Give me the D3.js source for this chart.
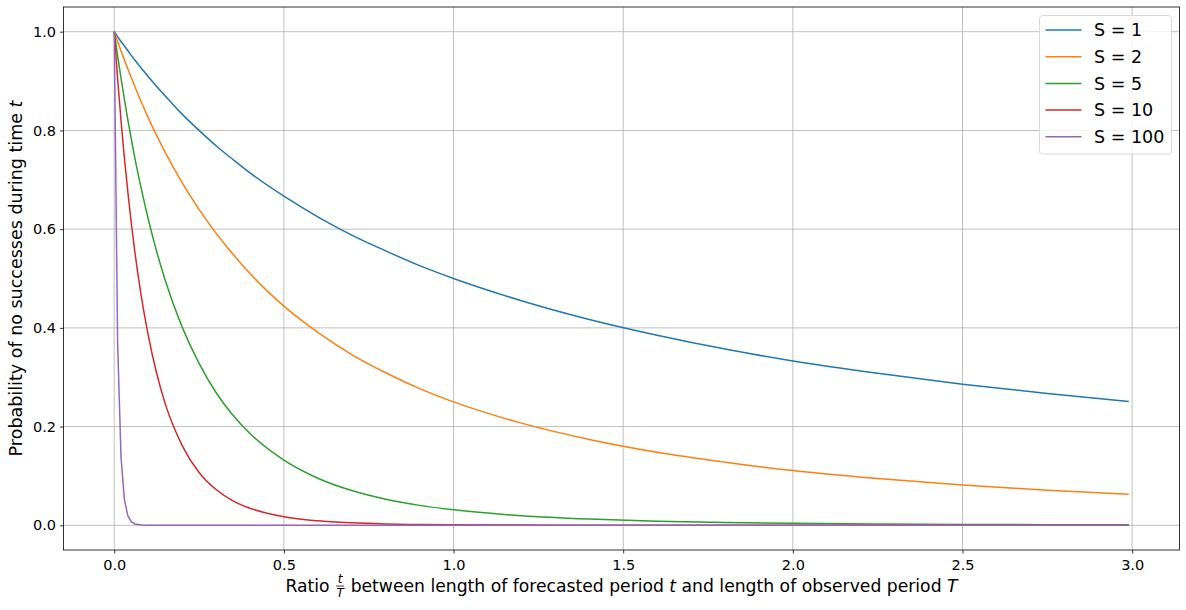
<!DOCTYPE html>
<html><head><meta charset="utf-8">
<script src="https://cdn.jsdelivr.net/npm/d3@7"></script>
<style>body{margin:0;background:#fff;} text{font-family:"DejaVu Sans",sans-serif;}</style>
</head><body>
<svg id="c" width="1186" height="610"></svg>
<script>
// Ratio t/T sample points
const ratios = [0, 0.01, 0.02, 0.03, 0.04, 0.05, 0.06, 0.08, 0.1, 0.125, 0.15, 0.2, 0.25, 0.3, 0.35, 0.4, 0.5, 0.6, 0.7, 0.8, 0.9, 1.0, 1.2, 1.4, 1.6, 1.8, 2.0, 2.25, 2.5, 2.75, 2.99];
const seriesNames = ["S = 1", "S = 2", "S = 5", "S = 10", "S = 100"];
const s1 = [1, 0.990, 0.980, 0.971, 0.962, 0.952, 0.943, 0.926, 0.909, 0.889, 0.870, 0.833, 0.800, 0.769, 0.741, 0.714, 0.667, 0.625, 0.588, 0.556, 0.526, 0.500, 0.455, 0.417, 0.385, 0.357, 0.333, 0.308, 0.286, 0.267, 0.251];
const s2 = [1, 0.980, 0.961, 0.943, 0.925, 0.907, 0.890, 0.857, 0.826, 0.790, 0.756, 0.694, 0.640, 0.592, 0.549, 0.510, 0.444, 0.391, 0.346, 0.309, 0.277, 0.250, 0.207, 0.174, 0.148, 0.128, 0.111, 0.0947, 0.0816, 0.0711, 0.0628];
const s5 = [1, 0.951, 0.906, 0.863, 0.822, 0.784, 0.747, 0.681, 0.621, 0.555, 0.497, 0.402, 0.328, 0.269, 0.223, 0.186, 0.132, 0.0954, 0.0704, 0.0529, 0.0404, 0.0313, 0.0194, 0.0126, 0.0084, 0.0058, 0.0041, 0.0028, 0.0019, 0.0013, 0.0010];
const s10 = [1, 0.905, 0.820, 0.744, 0.676, 0.614, 0.558, 0.463, 0.386, 0.308, 0.247, 0.162, 0.107, 0.0725, 0.0497, 0.0346, 0.0173, 0.0091, 0.0050, 0.0028, 0.0016, 0.0010, 0.0004, 0.0002, 0.0001, 0.00003, 0.00002, 0.00001, 0, 0, 0];
const s100 = [1, 0.370, 0.138, 0.052, 0.0198, 0.0076, 0.0029, 0.0005, 0.0001, 0, 0, 0, 0, 0, 0, 0, 0, 0, 0, 0, 0, 0, 0, 0, 0, 0, 0, 0, 0, 0, 0];
const seriesValues = [s1, s2, s5, s10, s100];
const colors = ["#1f77b4", "#ff7f0e", "#2ca02c", "#d62728", "#9467bd"];
const xTicks = [0.0, 0.5, 1.0, 1.5, 2.0, 2.5, 3.0];
const yTicks = [0.0, 0.2, 0.4, 0.6, 0.8, 1.0];

const svg = d3.select("#c");
const L = 63.5, R = 1179.5, T = 7, B = 550;
const x = d3.scaleLinear().domain([-0.1495, 3.1395]).range([L, R]);
const y = d3.scaleLinear().domain([-0.05, 1.05]).range([B, T]);

// grid
const g = svg.append("g");
xTicks.forEach(t => g.append("line").attr("x1", x(t)).attr("x2", x(t)).attr("y1", T).attr("y2", B).attr("stroke", "#b0b0b0").attr("stroke-width", 0.8));
yTicks.forEach(t => g.append("line").attr("x1", L).attr("x2", R).attr("y1", y(t)).attr("y2", y(t)).attr("stroke", "#b0b0b0").attr("stroke-width", 0.8));

// axes
const xa = svg.append("g").attr("transform", `translate(0,${B})`).call(d3.axisBottom(x).tickValues(xTicks).tickFormat(d3.format(".1f")).tickSize(3.5).tickPadding(4));
const ya = svg.append("g").attr("transform", `translate(${L},0)`).call(d3.axisLeft(y).tickValues(yTicks).tickFormat(d3.format(".1f")).tickSize(3.5).tickPadding(4));
[xa, ya].forEach(a => {
  a.select(".domain").remove();
  a.selectAll("text").attr("font-size", 14.5).attr("fill", "#000").style("font-family", "DejaVu Sans");
  a.selectAll("line").attr("stroke", "#000").attr("stroke-width", 0.8);
});
xa.selectAll("text").attr("dy", "0.75em").attr("y", 9);

// lines
const clip = svg.append("clipPath").attr("id", "cp").append("rect").attr("x", L).attr("y", T).attr("width", R - L).attr("height", B - T);
const lg = svg.append("g").attr("clip-path", "url(#cp)");
seriesValues.forEach((vals, i) => {
  const pts = ratios.map((r, j) => [r, vals[j]]);
  const line = d3.line().x(d => x(d[0])).y(d => y(d[1])).curve(i === 4 ? d3.curveLinear : d3.curveMonotoneX);
  lg.append("path").attr("d", line(pts)).attr("fill", "none").attr("stroke", colors[i]).attr("stroke-width", 1.5).attr("stroke-linejoin", "round");
});

// frame
svg.append("rect").attr("x", L).attr("y", T).attr("width", R - L).attr("height", B - T).attr("fill", "none").attr("stroke", "#000").attr("stroke-width", 0.8);

// legend
const leg = svg.append("g");
leg.append("rect").attr("x", 1039.5).attr("y", 15.5).attr("width", 132).attr("height", 138.5).attr("rx", 3).attr("fill", "#fff").attr("fill-opacity", 0.8).attr("stroke", "#d8d8d8").attr("stroke-width", 1);
seriesNames.forEach((n, i) => {
  const yy = 30 + i * 26.7;
  leg.append("line").attr("x1", 1045.5).attr("x2", 1081.5).attr("y1", yy).attr("y2", yy).attr("stroke", colors[i]).attr("stroke-width", 1.5);
  leg.append("text").attr("x", 1094).attr("y", yy).attr("dy", "0.35em").attr("font-size", 17.5).text(n);
});

// y label
svg.append("text").attr("transform", `translate(22,${(T + B) / 2}) rotate(-90)`).attr("text-anchor", "middle").attr("font-size", 17.5)
  .html('Probability of no successes during time <tspan font-style="italic">t</tspan>');

// x label with fraction
const xl = svg.append("g");
const fs = 17.2;
const parts1 = xl.append("text").attr("y", 592).attr("font-size", fs).text("Ratio");
const w1 = parts1.node().getComputedTextLength();
const gapA = 6, fracW = 9, gapB = 6;
const p2 = xl.append("text").attr("y", 592).attr("font-size", fs).html('between length of forecasted period <tspan font-style="italic">t</tspan> and length of observed period <tspan font-style="italic">T</tspan>');
const w2 = p2.node().getComputedTextLength();
const total = w1 + gapA + fracW + gapB + w2;
const x0 = (L + R) / 2 - total / 2;
parts1.attr("x", x0);
const fx = x0 + w1 + gapA + fracW / 2;
xl.append("text").attr("x", fx).attr("y", 583).attr("text-anchor", "middle").attr("font-size", 12).attr("font-style", "italic").text("t");
xl.append("line").attr("x1", fx - 4).attr("x2", fx + 4).attr("y1", 586).attr("y2", 586).attr("stroke", "#000").attr("stroke-width", 0.8);
xl.append("text").attr("x", fx).attr("y", 597).attr("text-anchor", "middle").attr("font-size", 12).attr("font-style", "italic").text("T");
p2.attr("x", x0 + w1 + gapA + fracW + gapB);
</script>
</body></html>
